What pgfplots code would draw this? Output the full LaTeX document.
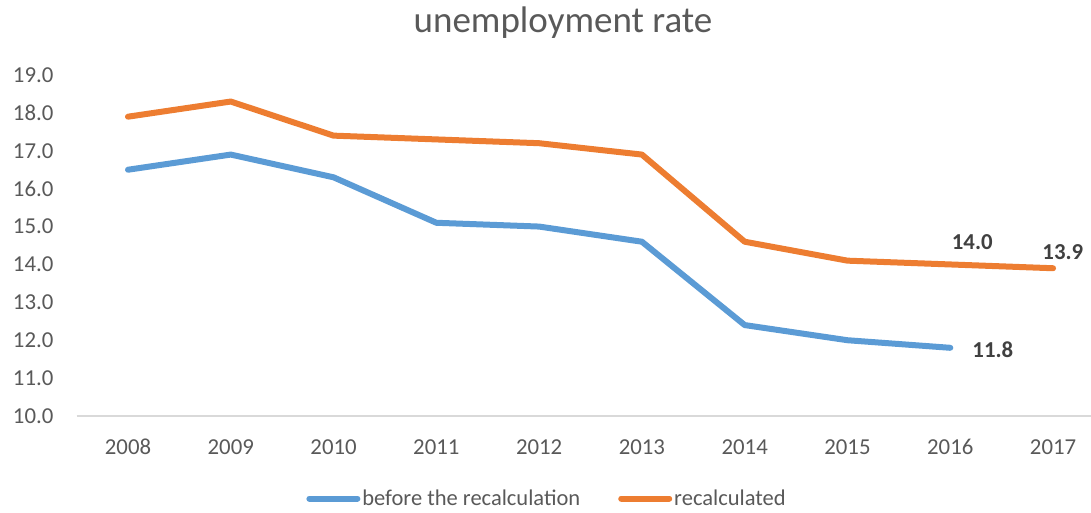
\documentclass[border=0pt]{standalone}
\usepackage{pgfplots}
\pgfplotsset{compat=1.18}
\usepackage{fontspec}
\setmainfont{Carlito}
\definecolor{cblue}{HTML}{5B9BD5}
\definecolor{corange}{HTML}{ED7D31}
\definecolor{ctext}{HTML}{595959}
\definecolor{clabel}{HTML}{404040}
\definecolor{caxis}{HTML}{D9D9D9}
\begin{document}
\begin{tikzpicture}
\useasboundingbox (0,0) rectangle (1091pt,512pt);
\node[anchor=base, text=ctext, font=\fontsize{37}{44}\selectfont] at (563pt,479pt) {unemployment rate};
\begin{axis}[
  at={(76.6pt,96pt)}, anchor=south west,
  scale only axis, width=1014.4pt, height=341pt,
  xmin=-0.5, xmax=9.37, ymin=10, ymax=19,
  xtick={0,...,9},
  xticklabels={2008,2009,2010,2011,2012,2013,2014,2015,2016,2017},
  ytick={10,11,...,19},
  major tick length=0pt,
  axis lines*=left,
  x axis line style={draw=caxis, line width=1.3pt, -},
  y axis line style={draw=none},
  /pgf/number format/assume math mode=true,
  yticklabel style={/pgf/number format/fixed, /pgf/number format/fixed zerofill, /pgf/number format/precision=1},
  ticklabel style={text=ctext, font=\fontsize{22.8}{27}\selectfont, inner sep=0pt},
  yticklabel style={anchor=east, xshift=-23pt},
  xticklabel style={anchor=north, yshift=-23pt},
  clip=false,
  legend columns=2,
  legend style={at={(0.4637,-0.242)}, anchor=center, draw=none, fill=none,
    font=\fontsize{22.5}{27}\selectfont, text=ctext,
    /tikz/every even column/.append style={column sep=36pt},
    inner sep=0pt},
  legend image code/.code={\draw[#1, line width=6pt, line cap=round] (0pt,0pt) -- (48pt,0pt);},
]
\addplot[cblue, line width=6pt, line cap=round, line join=round] coordinates {
  (0,16.5) (1,16.9) (2,16.3) (3,15.1) (4,15.0) (5,14.6) (6,12.4) (7,12.0) (8,11.8)
};
\addlegendentry{before the recalculation}
\addplot[corange, line width=6pt, line cap=round, line join=round] coordinates {
  (0,17.9) (1,18.3) (2,17.4) (3,17.3) (4,17.2) (5,16.9) (6,14.6) (7,14.1) (8,14.0) (9,13.9)
};
\addlegendentry{recalculated}
\node[text=clabel, font=\bfseries\fontsize{22.8}{27}\selectfont, inner sep=0pt] at (axis cs:8.214,14.58) {14.0};
\node[text=clabel, font=\bfseries\fontsize{22.8}{27}\selectfont, inner sep=0pt] at (axis cs:9.095,14.33) {13.9};
\node[text=clabel, font=\bfseries\fontsize{22.8}{27}\selectfont, inner sep=0pt] at (axis cs:8.414,11.74) {11.8};
\end{axis}
\end{tikzpicture}
\end{document}
